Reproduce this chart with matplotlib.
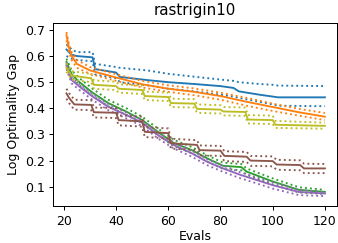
import matplotlib
matplotlib.use("Agg")
import matplotlib.pyplot as plt

# best-so-far log optimality gap per method: mean (solid) and spread (dotted)
blue_x = [21, 23, 25, 31, 32, 40, 41.5, 52, 60, 70, 80, 85, 87, 95, 100, 102, 120]
blue_mean = [0.625, 0.605, 0.600, 0.595, 0.550, 0.537, 0.520, 0.508, 0.500, 0.493, 0.485, 0.478, 0.465, 0.452, 0.445, 0.442, 0.442]
blue_hi = [0.645, 0.625, 0.615, 0.615, 0.570, 0.558, 0.555, 0.545, 0.532, 0.521, 0.510, 0.505, 0.500, 0.493, 0.490, 0.487, 0.485]
blue_lo = [0.600, 0.590, 0.585, 0.580, 0.530, 0.515, 0.500, 0.488, 0.475, 0.465, 0.452, 0.445, 0.440, 0.425, 0.415, 0.410, 0.408]

orange_x = [21, 22, 23, 25, 30, 40, 50, 60, 70, 80, 90, 100, 110, 120]
orange_mean = [0.680, 0.630, 0.600, 0.570, 0.545, 0.518, 0.492, 0.475, 0.463, 0.447, 0.425, 0.405, 0.385, 0.368]
orange_hi = [0.692, 0.645, 0.615, 0.585, 0.558, 0.530, 0.505, 0.488, 0.476, 0.460, 0.440, 0.418, 0.398, 0.382]
orange_lo = [0.660, 0.615, 0.585, 0.555, 0.532, 0.505, 0.480, 0.463, 0.450, 0.433, 0.410, 0.390, 0.372, 0.355]

green_x = [21, 23, 26, 31, 37, 44, 50, 56, 62, 69, 75, 81, 88, 90, 100, 110, 120]
green_mean = [0.578, 0.530, 0.500, 0.460, 0.420, 0.387, 0.355, 0.310, 0.268, 0.240, 0.208, 0.180, 0.175, 0.158, 0.120, 0.088, 0.080]
green_hi = [0.590, 0.545, 0.515, 0.475, 0.433, 0.400, 0.368, 0.323, 0.280, 0.252, 0.220, 0.192, 0.187, 0.170, 0.132, 0.098, 0.088]
green_lo = [0.565, 0.518, 0.488, 0.448, 0.408, 0.375, 0.343, 0.298, 0.256, 0.228, 0.196, 0.168, 0.163, 0.146, 0.108, 0.078, 0.072]

purple_x = [21, 23, 26, 31, 37, 44, 50, 56, 62, 69, 75, 81, 88, 90, 100, 110, 120]
purple_mean = [0.565, 0.508, 0.483, 0.445, 0.406, 0.374, 0.345, 0.298, 0.260, 0.228, 0.195, 0.170, 0.144, 0.138, 0.106, 0.080, 0.074]
purple_hi = [0.575, 0.518, 0.493, 0.455, 0.416, 0.384, 0.355, 0.308, 0.270, 0.238, 0.205, 0.180, 0.154, 0.148, 0.116, 0.088, 0.080]
purple_lo = [0.550, 0.495, 0.470, 0.432, 0.393, 0.361, 0.332, 0.285, 0.247, 0.215, 0.182, 0.157, 0.131, 0.125, 0.093, 0.068, 0.064]

brown_x = [21, 22, 24, 30.5, 31.5, 40, 41, 50, 51, 60, 61, 71, 72, 80, 81.5, 90, 91.5, 100, 101.5, 110.5, 112, 120]
brown_mean = [0.457, 0.440, 0.415, 0.413, 0.385, 0.383, 0.355, 0.350, 0.310, 0.305, 0.266, 0.260, 0.240, 0.238, 0.218, 0.215, 0.200, 0.198, 0.185, 0.183, 0.170, 0.170]
brown_hi = [0.475, 0.458, 0.433, 0.431, 0.403, 0.401, 0.373, 0.368, 0.328, 0.323, 0.284, 0.278, 0.258, 0.256, 0.236, 0.233, 0.218, 0.216, 0.203, 0.201, 0.188, 0.187]
brown_lo = [0.437, 0.420, 0.395, 0.393, 0.365, 0.363, 0.335, 0.330, 0.290, 0.285, 0.246, 0.240, 0.220, 0.218, 0.198, 0.195, 0.180, 0.178, 0.165, 0.163, 0.152, 0.152]

olive_x = [21, 23, 30.5, 31.5, 40, 41, 50, 51, 60, 61, 70, 71, 80, 81, 89.5, 90.5, 100, 101, 120]
olive_mean = [0.555, 0.525, 0.515, 0.490, 0.485, 0.475, 0.470, 0.447, 0.443, 0.420, 0.418, 0.398, 0.395, 0.388, 0.386, 0.357, 0.355, 0.337, 0.333]
olive_hi = [0.572, 0.542, 0.532, 0.507, 0.502, 0.492, 0.487, 0.464, 0.460, 0.437, 0.435, 0.415, 0.412, 0.405, 0.403, 0.374, 0.372, 0.352, 0.345]
olive_lo = [0.540, 0.510, 0.500, 0.475, 0.470, 0.460, 0.455, 0.432, 0.428, 0.405, 0.403, 0.383, 0.380, 0.373, 0.371, 0.342, 0.340, 0.325, 0.322]

series = [
    ("C0", blue_x, blue_mean, blue_hi, blue_lo),
    ("C1", orange_x, orange_mean, orange_hi, orange_lo),
    ("C2", green_x, green_mean, green_hi, green_lo),
    ("C4", purple_x, purple_mean, purple_hi, purple_lo),
    ("C5", brown_x, brown_mean, brown_hi, brown_lo),
    ("C8", olive_x, olive_mean, olive_hi, olive_lo),
]

fig = plt.figure(figsize=(338 / 90, 243 / 90), dpi=90)
ax = fig.add_axes([0.158, 0.152, 0.838, 0.755])

for color, xs, mean, hi, lo in series:
    ax.plot(xs, mean, color=color, lw=1.5)
    ax.plot(xs, hi, color=color, ls=":", lw=1.5)
    ax.plot(xs, lo, color=color, ls=":", lw=1.5)

ax.set_xlim(16, 124.5)
ax.set_ylim(0.026, 0.728)
ax.set_xticks([20, 40, 60, 80, 100, 120])
ax.set_yticks([0.1, 0.2, 0.3, 0.4, 0.5, 0.6, 0.7])
ax.set_xlabel("Evals", labelpad=1.5)
ax.set_ylabel("Log Optimality Gap")
ax.set_title("rastrigin10")

fig.savefig("out.png", dpi=90)
